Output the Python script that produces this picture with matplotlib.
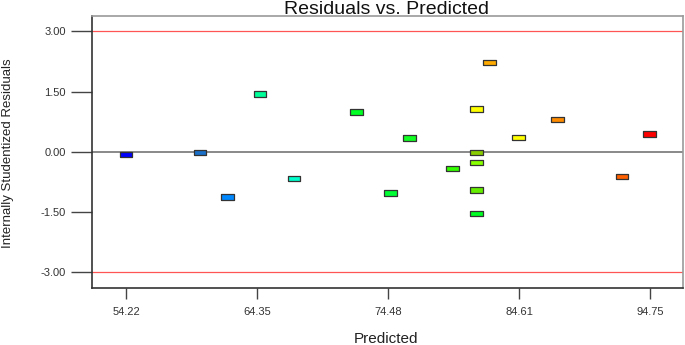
import matplotlib.pyplot as plt

# data
predicted = [54.22, 59.94, 62.08, 64.58, 67.21, 72.01, 74.64, 76.11, 79.43,
             81.29, 81.29, 81.29, 81.29, 81.29, 82.32, 84.54, 87.55, 92.56, 94.72]
residuals = [-0.07, -0.01, -1.12, 1.44, -0.66, 0.99, -1.02, 0.35, -0.42,
             1.07, -0.02, -0.27, -0.95, -1.53, 2.22, 0.36, 0.80, -0.61, 0.45]
colors = ['#0000ff', '#1a70c8', '#0088ff', '#00ff99', '#00ffcc', '#00ff22', '#00ff33', '#11ff22', '#33ff00',
          '#ffff00', '#88cc00', '#88ff00', '#66ee00', '#00ff22', '#ffaa00', '#ffff00', '#ff8c00', '#ff6000', '#ff0000']
xticks = [54.22, 64.35, 74.48, 84.61, 94.75]
yticks = [-3.00, -1.50, 0.00, 1.50, 3.00]
limit = 3.0

plt.rcParams['font.family'] = ['Liberation Sans', 'DejaVu Sans']

fig = plt.figure(figsize=(6.85, 3.45), dpi=100)
ax = fig.add_axes([92.3 / 685, 1 - 287.7 / 345, (683 - 92.3) / 685, (287.7 - 15.7) / 345])

ax.axhline(limit, color='#ff5555', lw=0.9, zorder=1)
ax.axhline(-limit, color='#ff5555', lw=0.9, zorder=1)
ax.axhline(0, color='#808080', lw=1.3, zorder=1)

rect = [(-1, -0.42), (1, -0.42), (1, 0.42), (-1, 0.42), (-1, -0.42)]
ax.scatter(predicted, residuals, c=colors, marker=rect, s=85, edgecolors='#333333',
           linewidths=0.9, zorder=3)

ax.set_xlim(51.61, 97.28)
ax.set_ylim(-3.38, 3.39)
ax.set_xticks(xticks)
ax.set_xticklabels([f'{v:.2f}' for v in xticks])
ax.set_yticks(yticks)
ax.set_yticklabels([f'{v:.2f}' for v in yticks])
ax.tick_params(axis='y', direction='out', length=15, width=1, color='#444444',
               labelsize=8, labelcolor='#333333', pad=4)
ax.tick_params(axis='x', direction='out', length=8, width=1, color='#444444',
               labelsize=8, labelcolor='#333333', pad=6)

for side in ['left', 'bottom']:
    ax.spines[side].set_color('#333333')
    ax.spines[side].set_linewidth(1.2)
for side in ['top', 'right']:
    ax.spines[side].set_color('#999999')
    ax.spines[side].set_linewidth(1.2)

fig.text(386 / 685, 1 - 13.5 / 345, 'Residuals vs. Predicted', ha='center', va='baseline',
         fontsize=14, color='#111111')
fig.text(386 / 685, 1 - 339 / 345, 'Predicted', ha='center', va='center', fontsize=11, color='#222222')
fig.text(8 / 685, 1 - 153 / 345, 'Internally Studentized Residuals', rotation=90,
         ha='center', va='center', fontsize=9.5, color='#222222')

fig.savefig('out.png', dpi=100)
